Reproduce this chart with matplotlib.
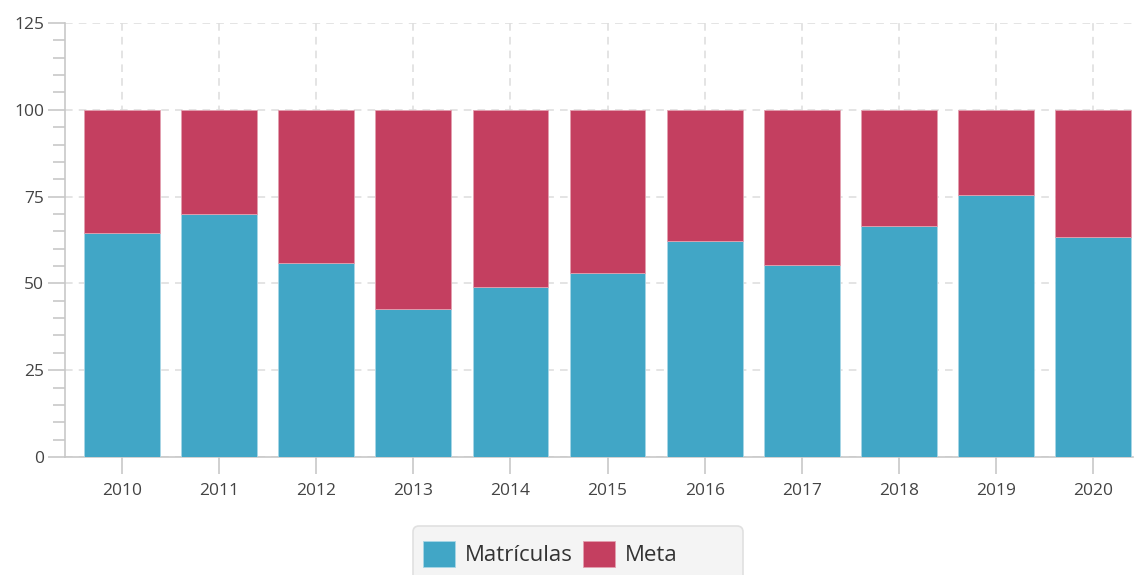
import numpy as np
import matplotlib
matplotlib.use('Agg')
from matplotlib import pyplot as plt
from matplotlib.ticker import MultipleLocator
from matplotlib.patches import FancyBboxPatch

years = ['2010', '2011', '2012', '2013', '2014', '2015', '2016', '2017', '2018', '2019', '2020']
matriculas = [64.5, 70.0, 55.9, 42.6, 49.0, 53.0, 62.2, 55.3, 66.5, 75.5, 63.4]
meta_total = [100, 100, 100, 100, 100, 100, 100, 100, 100, 100, 100]

COLOR_MAT = '#41a6c6'
COLOR_META = '#c43f60'

plt.rcParams.update({'font.family': ['Open Sans', 'DejaVu Sans']})

fig = plt.figure(figsize=(11.38, 5.75), dpi=100)
ax = fig.add_axes([65/1138, 1 - 457/575, (1133 - 65)/1138, (457 - 23)/575])

x = np.arange(len(years))
meta = np.array(meta_total) - np.array(matriculas)
width = 0.78
ax.bar(x, matriculas, width, color=COLOR_MAT, label='Matrículas', zorder=3,
       edgecolor='#a8d6e6', linewidth=0.6)
ax.bar(x, meta, width, bottom=matriculas, color=COLOR_META, label='Meta', zorder=3,
       edgecolor='#e3a0b0', linewidth=0.6)

# axes styling
ax.set_xlim(-0.587, 10.41)
ax.set_ylim(0, 125)
ax.set_xticks(x, years)
ax.yaxis.set_major_locator(MultipleLocator(25))
ax.yaxis.set_minor_locator(MultipleLocator(5))
for spine in ['right', 'top']:
    ax.spines[spine].set_visible(False)
for spine in ['left', 'bottom']:
    ax.spines[spine].set_color('#c8c8c8')
    ax.spines[spine].set_linewidth(1.2)
ax.tick_params(axis='both', colors='#c8c8c8', labelcolor='#444444', labelsize=12.5, width=1.2)
ax.tick_params(axis='y', which='major', length=12, pad=3)
ax.tick_params(axis='y', which='minor', length=8.5, width=1.2, colors='#c8c8c8')
ax.tick_params(axis='x', length=12, pad=7)
ax.grid(True, which='major', color='#dddddd', linestyle=(0, (5, 4)), linewidth=1.1, zorder=0)

# legend box (wider than its contents, cut off at the bottom edge)
box = FancyBboxPatch((413, -10), 330, 59, boxstyle='round,pad=0,rounding_size=6',
                     transform=None, facecolor='#f4f4f4', edgecolor='#e0e0e0', linewidth=1.2)
fig.patches.append(box)

leg = fig.legend(loc='center left', bbox_to_anchor=(423/1138, 1 - 554/575), ncol=2,
                 fontsize=16, frameon=False, handlelength=1.44, handleheight=1.44,
                 handletextpad=0.45, columnspacing=0.45, borderpad=0, borderaxespad=0)
for t in leg.get_texts():
    t.set_color('#333333')

plt.savefig('out.png', dpi=100)
